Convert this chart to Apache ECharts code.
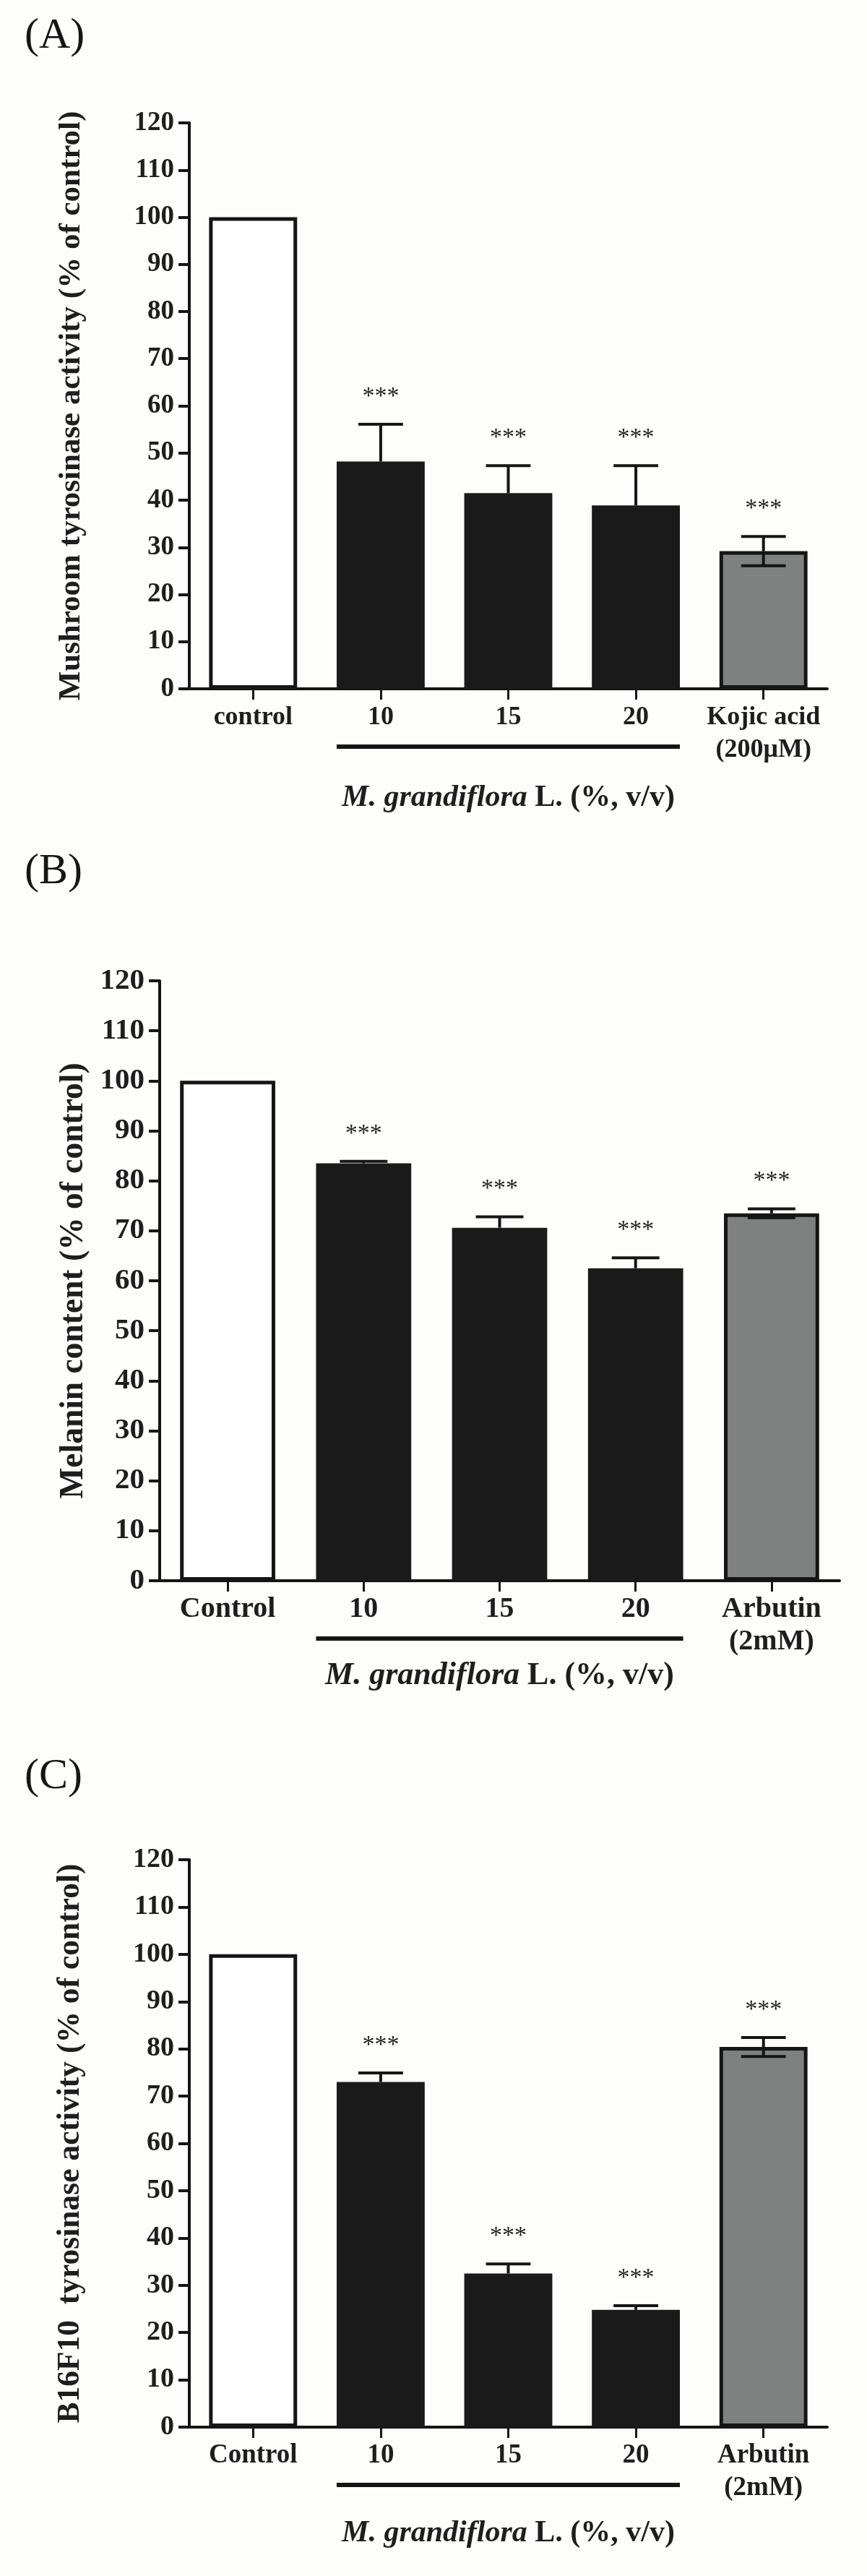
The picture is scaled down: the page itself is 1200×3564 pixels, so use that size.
<!DOCTYPE html>
<html><head><meta charset="utf-8">
<script src="https://cdn.jsdelivr.net/npm/echarts@6/dist/echarts.min.js"></script>
<style>html,body{margin:0;padding:0;background:#fdfdfb}#c{width:1200px;height:3564px}</style>
</head><body><div id="c"></div>
<script>
// ---------- data ----------
const yMin = 0, yMax = 120, yStep = 10;

const catsA = ['control', '10', '15', '20', 'Kojic acid\n(200\u03bcM)'];
const meanA = [100, 48.2, 41.5, 38.9, 29.2];
const sdA   = [0, 7.9, 5.8, 8.4, 3.1];
const starA = ['', '***', '***', '***', '***'];

const catsB = ['Control', '10', '15', '20', 'Arbutin\n(2mM)'];
const meanB = [100, 83.5, 70.6, 62.5, 73.5];
const sdB   = [0, 0.4, 2.2, 2.1, 0.9];
const starB = ['', '***', '***', '***', '***'];

const catsC = ['Control', '10', '15', '20', 'Arbutin\n(2mM)'];
const meanC = [100, 73.0, 32.5, 24.8, 80.4];
const sdC   = [0, 1.9, 2.0, 0.9, 2.0];
const starC = ['', '***', '***', '***', '***'];

const kinds = ['open', 'dark', 'dark', 'dark', 'grey'];
const bracketRange = [1, 3];

const titleA = 'Mushroom tyrosinase activity (% of control)';
const titleB = 'Melanin content (% of control)';
const titleC = 'B16F10  tyrosinase activity (% of control)';
const groupName = '{i|M. grandiflora}{n| L. (%, v/v)}';

// ---------- styling / layout ----------
const FONT = '"Liberation Serif", "Times New Roman", serif';
const INK = '#151515';
const fills = {
  open: { color: '#ffffff', borderColor: INK, borderWidth: 5 },
  dark: { color: '#1a1a1a', borderColor: '#1a1a1a', borderWidth: 0 },
  grey: { color: '#7f8080', borderColor: INK, borderWidth: 5 }
};

const panels = [
  { tag: '(A)', tagTop: 20, cats: catsA, mean: meanA, sd: sdA, star: starA, title: titleA,
    grid: { left: 262, width: 883, top: 170, height: 783 },
    tick: 37, cat: 36, ttl: 43, ttlGap: 142, nameSize: 42, nameGap: 130, barW: '69%' },
  { tag: '(B)', tagTop: 1176, cats: catsB, mean: meanB, sd: sdB, star: starB, title: titleB,
    grid: { left: 221, width: 941, top: 1357, height: 830 },
    tick: 41, cat: 40, ttl: 45.5, ttlGap: 96, nameSize: 44, nameGap: 110, barW: '70%' },
  { tag: '(C)', tagTop: 2428, cats: catsC, mean: meanC, sd: sdC, star: starC, title: titleC,
    grid: { left: 262, width: 883, top: 2573, height: 785 },
    tick: 38, cat: 37, ttl: 43.5, ttlGap: 142, nameSize: 42, nameGap: 126, barW: '69%' }
];

function errRender(params, api) {
  const i = api.value(0), m = api.value(1), s = api.value(2);
  if (!s) return null;
  const both = kinds[i] !== 'dark';
  const top = api.coord([i, m + s]);
  const mid = api.coord([i, m]);
  const bot = api.coord([i, m - s]);
  const hw = api.size([1, 0])[0] * 0.175;
  const st = { stroke: INK, lineWidth: 4 };
  const kids = [
    { type: 'line', shape: { x1: top[0], y1: top[1], x2: mid[0], y2: mid[1] }, style: st },
    { type: 'line', shape: { x1: top[0] - hw, y1: top[1], x2: top[0] + hw, y2: top[1] }, style: st }
  ];
  if (both) {
    kids.push({ type: 'line', shape: { x1: mid[0], y1: mid[1], x2: bot[0], y2: bot[1] }, style: st });
    kids.push({ type: 'line', shape: { x1: bot[0] - hw, y1: bot[1], x2: bot[0] + hw, y2: bot[1] }, style: st });
  }
  return { type: 'group', children: kids };
}
function starRender(params, api) {
  const i = api.value(0), m = api.value(1), s = api.value(2);
  const p = api.coord([i, m + s]);
  return { type: 'text', x: p[0], y: p[1] - 38,
    style: { text: '***', fill: '#1e1e1e', fontSize: 34, fontFamily: FONT,
      align: 'center', verticalAlign: 'middle', textAlign: 'center', textVerticalAlign: 'middle' } };
}
function makeBracket(frac) {
  return function (params, api) {
    const a = api.coord([api.value(0), 0]);
    const b = api.coord([api.value(2), 0]);
    const hb = api.size([1, 0])[0] * frac / 2;
    const y = a[1] + 80;
    return { type: 'line', shape: { x1: a[0] - hb, y1: y, x2: b[0] + hb, y2: y },
      style: { stroke: INK, lineWidth: 6 } };
  };
}

const option = {
  backgroundColor: '#fdfdfb',
  animation: false,
  grid: [], xAxis: [], yAxis: [], series: [], graphic: []
};

panels.forEach((P, k) => {
  option.grid.push(Object.assign({ containLabel: false, outerBoundsMode: 'none' }, P.grid));
  option.graphic.push({ type: 'text', left: 34, top: P.tagTop,
    style: { text: P.tag, fontSize: 60, fontFamily: FONT, fill: INK } });
  option.xAxis.push({
    type: 'category', gridIndex: k, data: P.cats,
    axisLine: { show: true, lineStyle: { color: INK, width: 4 } },
    axisTick: { show: true, alignWithLabel: true, interval: 0, length: 15, lineStyle: { color: INK, width: 3 } },
    axisLabel: { interval: 0, margin: 17, color: '#1e1e1e', fontFamily: FONT, fontWeight: 'bold',
      fontSize: P.cat, lineHeight: 45 },
    name: groupName, nameLocation: 'middle', nameGap: P.nameGap,
    nameTextStyle: { color: '#1e1e1e', rich: {
      i: { fontFamily: FONT, fontStyle: 'italic', fontWeight: 'bold', fontSize: P.nameSize, color: '#1e1e1e' },
      n: { fontFamily: FONT, fontWeight: 'bold', fontSize: P.nameSize, color: '#1e1e1e' } } }
  });
  option.yAxis.push({
    type: 'value', gridIndex: k, min: yMin, max: yMax, interval: yStep,
    axisLine: { show: true, onZero: false, lineStyle: { color: INK, width: 4 } },
    axisTick: { show: true, length: 15, lineStyle: { color: INK, width: 4 } },
    splitLine: { show: false },
    axisLabel: { margin: 21, color: '#1e1e1e', fontFamily: FONT, fontWeight: 'bold', fontSize: P.tick },
    name: P.title, nameLocation: 'middle', nameRotate: 90, nameGap: P.ttlGap,
    nameTextStyle: { fontFamily: FONT, fontWeight: 'bold', fontSize: P.ttl, color: '#1e1e1e' }
  });
  option.series.push({
    type: 'bar', xAxisIndex: k, yAxisIndex: k, barWidth: P.barW,
    data: P.mean.map((v, i) => ({ value: v, itemStyle: fills[kinds[i]] })),
    z: 2
  });
  option.series.push({
    type: 'custom', xAxisIndex: k, yAxisIndex: k, renderItem: errRender, clip: false, z: 3,
    encode: { x: 0, y: 1 },
    data: P.mean.map((v, i) => [i, v, P.sd[i]])
  });
  option.series.push({
    type: 'custom', xAxisIndex: k, yAxisIndex: k, renderItem: starRender, clip: false, z: 3,
    encode: { x: 0, y: 1 },
    data: P.mean.map((v, i) => [i, v, P.sd[i]]).filter((d, i) => P.star[i])
  });
  option.series.push({
    type: 'custom', xAxisIndex: k, yAxisIndex: k, renderItem: makeBracket(parseFloat(P.barW) / 100),
    clip: false, z: 3, encode: { x: 0, y: 1 },
    data: [[bracketRange[0], 0, bracketRange[1]]]
  });
});

const chart = echarts.init(document.getElementById('c'), null, { renderer: 'canvas', width: 1200, height: 3564 });
chart.setOption(option);
</script>
</body></html>
